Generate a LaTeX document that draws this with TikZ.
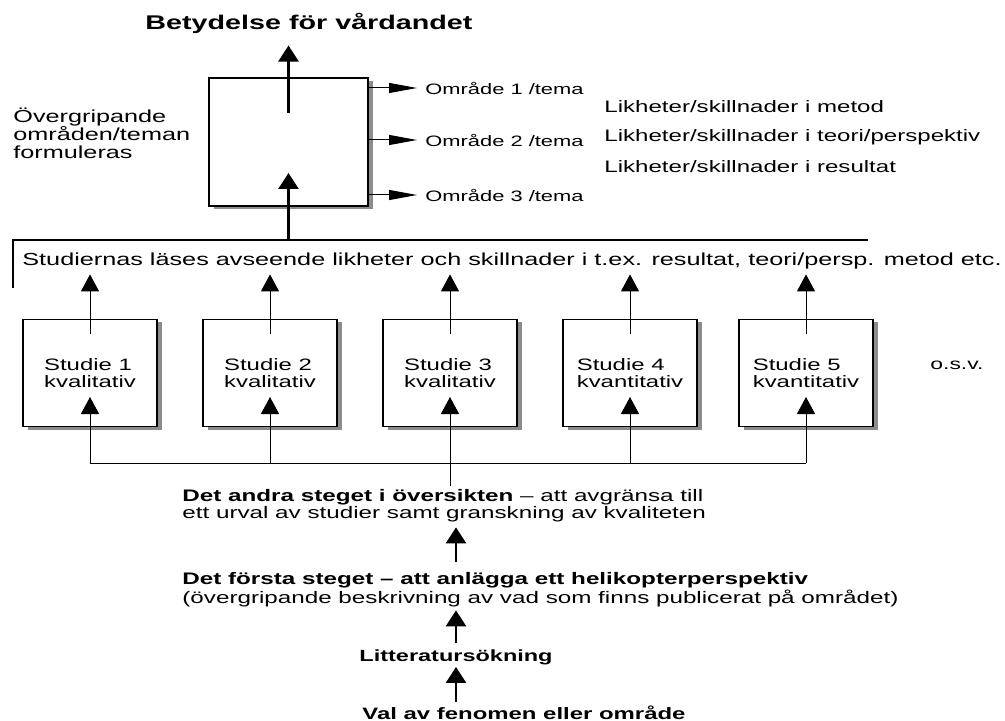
\documentclass[tikz,border=0pt]{standalone}
\usepackage{fontspec}
\setmainfont{Liberation Sans}[FakeStretch=1.45]
\usetikzlibrary{arrows.meta,positioning,shadows}

\tikzset{
  frame/.style={draw, line width=0.6pt, fill=white,
    drop shadow={shadow xshift=2.5pt, shadow yshift=-1.5pt, fill=black, opacity=0.45}},
  studybox/.style={frame, minimum width=67pt, minimum height=53.5pt, align=left,
    font=\fontsize{8.25}{8.5}\selectfont},
  txt/.style={inner sep=0pt},
  bigarrow/.style={-{Triangle[width=10pt,length=8pt]}, line width=1.3pt},
  studyarrow/.style={-{Triangle[width=9pt,length=8.5pt]}, line width=0.5pt},
  themearrow/.style={-{Triangle[width=5pt,length=14pt]}, line width=0.5pt}
}

\begin{document}
\begin{tikzpicture}[x=0.5pt, y=-0.5pt]
\useasboundingbox (0,0) rectangle (1005,721);

% top: themes
\node[txt, anchor=base, font=\bfseries\fontsize{9.9}{11}\selectfont] (title) at (309,30) {Betydelse för vårdandet};
\node[frame, minimum width=79.5pt, minimum height=64pt] (omr) at (288.5,142) {};
\node[txt, anchor=north west, align=left, font=\fontsize{8.7}{9}\selectfont] (overgr) at (13,108) {Övergripande\\områden/teman\\formuleras};
\node[txt, anchor=west, font=\fontsize{7.55}{9}\selectfont] (tema1) at (425,88) {Område 1 /tema};
\node[txt, anchor=west, font=\fontsize{7.55}{9}\selectfont] (tema2) at (425,140) {Område 2 /tema};
\node[txt, anchor=west, font=\fontsize{7.55}{9}\selectfont] (tema3) at (425,195) {Område 3 /tema};
\node[txt, anchor=west, font=\fontsize{8.3}{9}\selectfont] (lik1) at (604,107) {Likheter/skillnader i metod};
\node[txt, anchor=west, font=\fontsize{8.3}{9}\selectfont] (lik2) at (604,137) {Likheter/skillnader i teori/perspektiv};
\node[txt, anchor=west, font=\fontsize{8.3}{9}\selectfont] (lik3) at (604,167) {Likheter/skillnader i resultat};

\path[bigarrow, shorten >=5.5pt] ([yshift=14.5pt]omr.center) edge (omr |- title.south);
\path[themearrow, shorten >=4pt] (tema1 -| omr.east) edge (tema1.west);
\path[themearrow, shorten >=4pt] (tema2 -| omr.east) edge (tema2.west);
\path[themearrow, shorten >=4pt] (tema3 -| omr.east) edge (tema3.west);

% reading of the studies
\node[txt, anchor=base west, font=\fontsize{8.7}{9}\selectfont] (studier) at (22,266) {Studiernas läses avseende likheter och skillnader i t.ex. resultat, teori/persp. metod etc.};
\coordinate (brL) at (13,288);
\coordinate (brC) at (13,240);
\coordinate (brR) at (868,240);
\draw[line width=0.9pt] (brL) -- (brC) -- (brR);
\path[bigarrow] (omr |- brC) edge ([yshift=-15.5pt]omr.center);

% studies
\node[studybox] (s1) at (90,373) {Studie 1\\kvalitativ};
\node[studybox, on grid, right=90pt of s1] (s2) {Studie 2\\kvalitativ};
\node[studybox, on grid, right=90pt of s2] (s3) {Studie 3\\kvalitativ};
\node[studybox, on grid, right=90pt of s3] (s4) {Studie 4\\kvantitativ};
\node[studybox, on grid, right=88pt of s4] (s5) {Studie 5\\kvantitativ};
\node[txt, anchor=west, font=\fontsize{7.9}{9}\selectfont] (osv) at (930,365) {o.s.v.};

\path[studyarrow, shorten >=2.2pt] ([yshift=19.5pt]s1.center) edge (s1 |- studier.south);
\path[studyarrow, shorten >=2.2pt] ([yshift=19.5pt]s2.center) edge (s2 |- studier.south);
\path[studyarrow, shorten >=2.2pt] ([yshift=19.5pt]s3.center) edge (s3 |- studier.south);
\path[studyarrow, shorten >=2.2pt] ([yshift=19.5pt]s4.center) edge (s4 |- studier.south);
\path[studyarrow, shorten >=2.2pt] ([yshift=19.5pt]s5.center) edge (s5 |- studier.south);

% steps
\node[txt, anchor=north west, align=left, font=\fontsize{8.35}{8.5}\selectfont] (andra) at (182,489) {\textbf{Det andra steget i översikten} -- att avgränsa till\\ett urval av studier samt granskning av kvaliteten};
\node[txt, anchor=north west, align=left, font=\fontsize{8.35}{8.5}\selectfont] (forsta) at (182,572) {\textbf{Det första steget -- att anlägga ett helikopterperspektiv}\\(övergripande beskrivning av vad som finns publicerat på området)};
\node[txt, font=\bfseries\fontsize{8.1}{9}\selectfont] (litt) at (456,657) {Litteratursökning};
\node[txt, anchor=base west, font=\bfseries\fontsize{8.25}{9}\selectfont] (val) at (362,719) {Val av fenomen eller område};

\coordinate (bus) at (0,463);
\draw[line width=0.5pt] (s1 |- bus) -- (s5 |- bus);
\path[studyarrow] (s1 |- bus) edge ([yshift=-12pt]s1.center);
\path[studyarrow] (s2 |- bus) edge ([yshift=-12pt]s2.center);
\path[studyarrow, shorten <=1.5pt] (andra.north -| s3) edge ([yshift=-12pt]s3.center);
\path[studyarrow] (s4 |- bus) edge ([yshift=-12pt]s4.center);
\path[studyarrow] (s5 |- bus) edge ([yshift=-12pt]s5.center);

\path[bigarrow, shorten <=5pt, shorten >=2.5pt] (forsta.north -| litt) edge (litt |- andra.south);
\path[bigarrow, shorten <=3pt, shorten >=1.5pt] (litt.north) edge (litt |- forsta.south);
\path[bigarrow, shorten <=1.5pt, shorten >=1pt] (val.north -| litt) edge (litt.south);
\end{tikzpicture}
\end{document}
